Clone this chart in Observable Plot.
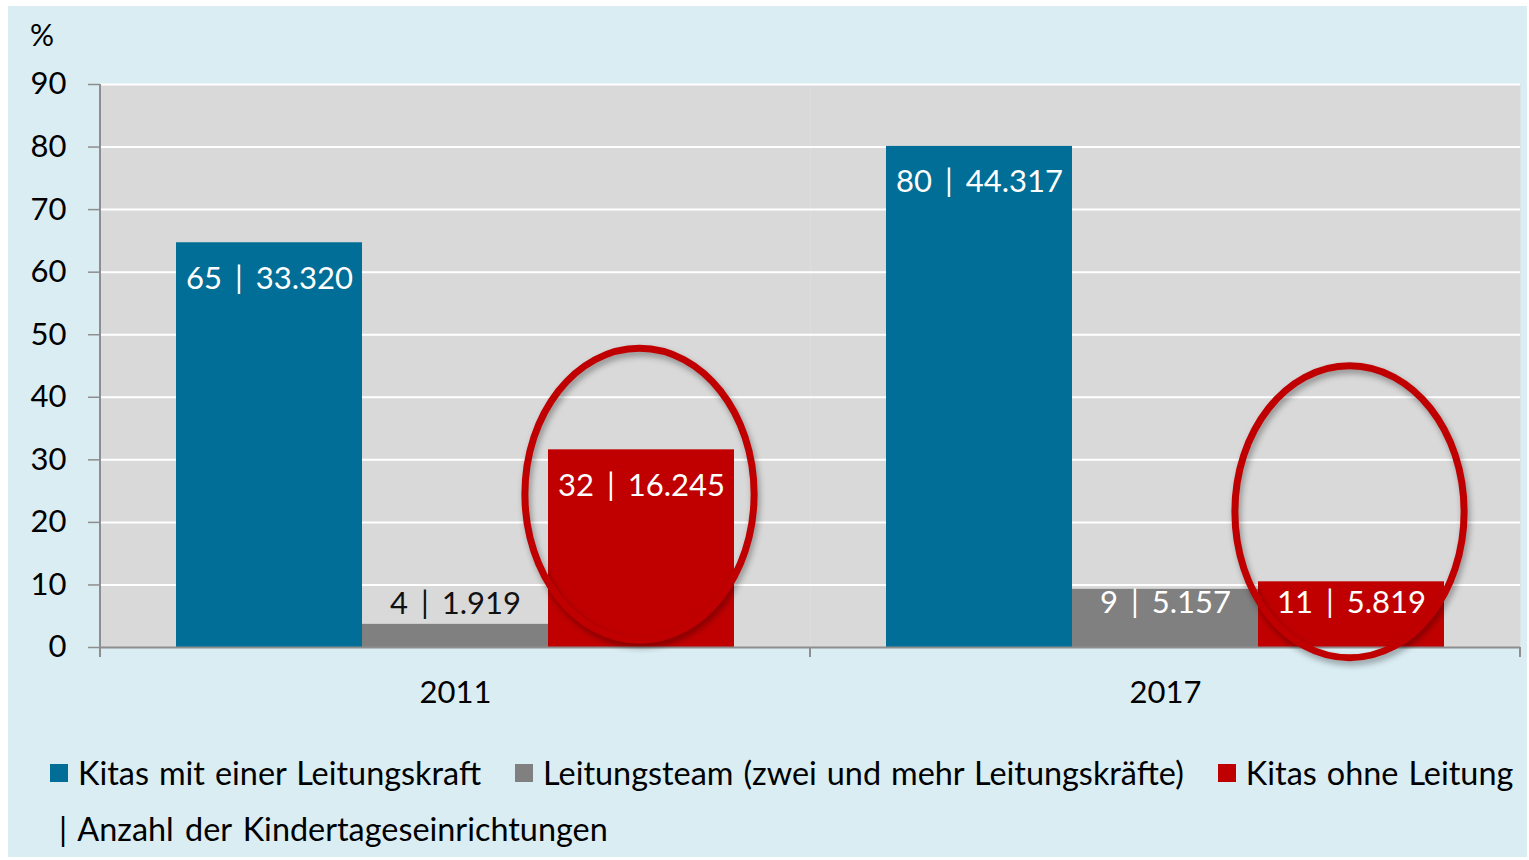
<!DOCTYPE html>
<html><head><meta charset="utf-8">
<script src="https://cdn.jsdelivr.net/npm/d3@7"></script>
<script src="https://cdn.jsdelivr.net/npm/@observablehq/plot@0.6"></script>
<style>
html,body{margin:0;padding:0;background:#fff;}
#wrap{position:absolute;left:8px;top:6px;width:1519px;height:851px;background:#daedf3;font-family:Lato,"Open Sans",sans-serif;color:#000;overflow:hidden;}
#pct{position:absolute;left:22px;top:10px;font-size:30px;line-height:36px;}
#chart{position:absolute;left:0;top:0;}
.row{position:absolute;left:42px;height:40px;line-height:40px;font-size:32.4px;word-spacing:1.7px;display:flex;align-items:center;white-space:nowrap;}
.item{display:flex;align-items:center;margin-right:34px;}
.sw{width:18px;height:18px;margin-right:10px;display:inline-block;}
g[aria-label="text"] text{word-spacing:5px;}
</style></head>
<body>
<div id="wrap">
  <div id="chart"></div>
  <div id="pct">%</div>
  <div class="row" id="leg1" style="top:747px"></div>
  <div class="row" id="leg2" style="top:803px;left:51px;word-spacing:3px"></div>
</div>
<script>
const years = ["2011", "2017"];
const series = ["Kitas mit einer Leitungskraft", "Leitungsteam (zwei und mehr Leitungskräfte)", "Kitas ohne Leitung"];
const colors = ["#006e96", "#808080", "#c00000"];
const share2011 = [64.7, 3.7, 31.6];
const share2017 = [80.1, 9.3, 10.5];
const labels2011 = ["65 | 33.320", "4 | 1.919", "32 | 16.245"];
const labels2017 = ["80 | 44.317", "9 | 5.157", "11 | 5.819"];
const yTicks = [0, 10, 20, 30, 40, 50, 60, 70, 80, 90];
const noteText = "| Anzahl der Kindertageseinrichtungen";
// annotation ellipses around "Kitas ohne Leitung" (centre in %)
const ellipseCenters = [24.5, 21.7];

const table = [];
series.forEach((s, i) => {
  table.push({year: years[0], series: s, value: share2011[i], label: labels2011[i], idx: i});
  table.push({year: years[1], series: s, value: share2017[i], label: labels2017[i], idx: i});
});
const inside = table.filter(d => d.value >= 20);
const smallInside = table.filter(d => d.value < 20 && d.value >= 6);
const outside = table.filter(d => d.value < 6);
const ann = years.map((y, i) => ({year: y, series: series[2], cy: ellipseCenters[i]}));

const ellipseSymbol = {
  draw(ctx, size) {
    const r = Math.sqrt(size / Math.PI);
    const ry = r, rx = r * 0.785, k = 0.5523;
    ctx.moveTo(rx, 0);
    ctx.bezierCurveTo(rx, ry * k, rx * k, ry, 0, ry);
    ctx.bezierCurveTo(-rx * k, ry, -rx, ry * k, -rx, 0);
    ctx.bezierCurveTo(-rx, -ry * k, -rx * k, -ry, 0, -ry);
    ctx.bezierCurveTo(rx * k, -ry, rx, -ry * k, rx, 0);
    ctx.closePath();
  }
};

const F = "Lato, 'Open Sans', sans-serif";
const labelStyle = {fontSize: 31, fontFamily: F};
const chart = Plot.plot({
  width: 1519, height: 714,
  marginLeft: 92, marginRight: 7, marginTop: 78, marginBottom: 73,
  style: {background: "transparent", fontFamily: F, color: "#000", overflow: "visible"},
  fx: {domain: years, paddingInner: 0, paddingOuter: 0},
  x: {domain: series, paddingInner: 0, paddingOuter: 0.4086, axis: null},
  y: {domain: [0, 90]},
  color: {domain: series, range: colors},
  marks: [
    Plot.frame({fill: "#d9d9d9", stroke: null}),
    Plot.gridY(yTicks.slice(1), {stroke: "#fff", strokeOpacity: 1, strokeWidth: 2}),
    Plot.barY(table, {fx: "year", x: "series", y: "value", fill: "series"}),
    Plot.ruleY([0], {stroke: "#8e8e8e", strokeWidth: 2}),
    Plot.text(inside, {fx: "year", x: "series", y: "value", text: "label", dy: 36, fill: "#fff", ...labelStyle}),
    Plot.text(smallInside, {fx: "year", x: "series", text: "label", frameAnchor: "bottom", dy: -35, fill: "#fff", ...labelStyle}),
    Plot.text(outside, {fx: "year", x: "series", y: "value", text: "label", dy: -20, fill: "#111", ...labelStyle}),
    Plot.dot(ann, {fx: "year", x: "series", y: "cy", r: 146, dx: -2, symbol: ellipseSymbol, stroke: "#c00000", strokeWidth: 7, fill: "none",
      imageFilter: "drop-shadow(2px 4px 3px rgba(0,0,0,0.35))"}),
    Plot.axisY({ticks: yTicks, tickSize: 12, tickPadding: 22, fontSize: 31, stroke: "#8e8e8e", strokeWidth: 1.5, label: null, fill: "#000", fontFamily: F}),
    Plot.axisFx({anchor: "bottom", tickSize: 0, tickPadding: 33, fontSize: 31, label: null, fill: "#000", fontFamily: F})
  ]
});
document.getElementById("chart").appendChild(chart);

// axis line and category boundary ticks from the library's scales
try {
  const fxS = chart.scale("fx"), yS = chart.scale("y");
  const [r0, r1] = fxS.range;
  const step = (r1 - r0) / fxS.domain.length;
  const yb = yS.range[0], yt = yS.range[1];
  const g = d3.select(chart).append("g").attr("stroke", "#8e8e8e").attr("stroke-width", 2);
  g.append("line").attr("x1", r0).attr("x2", r0).attr("y1", yt).attr("y2", yb + 10);
  d3.range(fxS.domain.length + 1).forEach(i => {
    const x = r0 + i * step;
    g.append("line").attr("x1", x).attr("x2", x).attr("y1", yb).attr("y2", yb + 10);
  });
} catch (e) { console.error(e); }

const leg1 = d3.select("#leg1");
series.forEach((s, i) => {
  const it = leg1.append("div").attr("class", "item");
  it.append("span").attr("class", "sw").style("background", colors[i]);
  it.append("span").text(s);
});
d3.select("#leg2").text(noteText);
</script>
</body></html>
